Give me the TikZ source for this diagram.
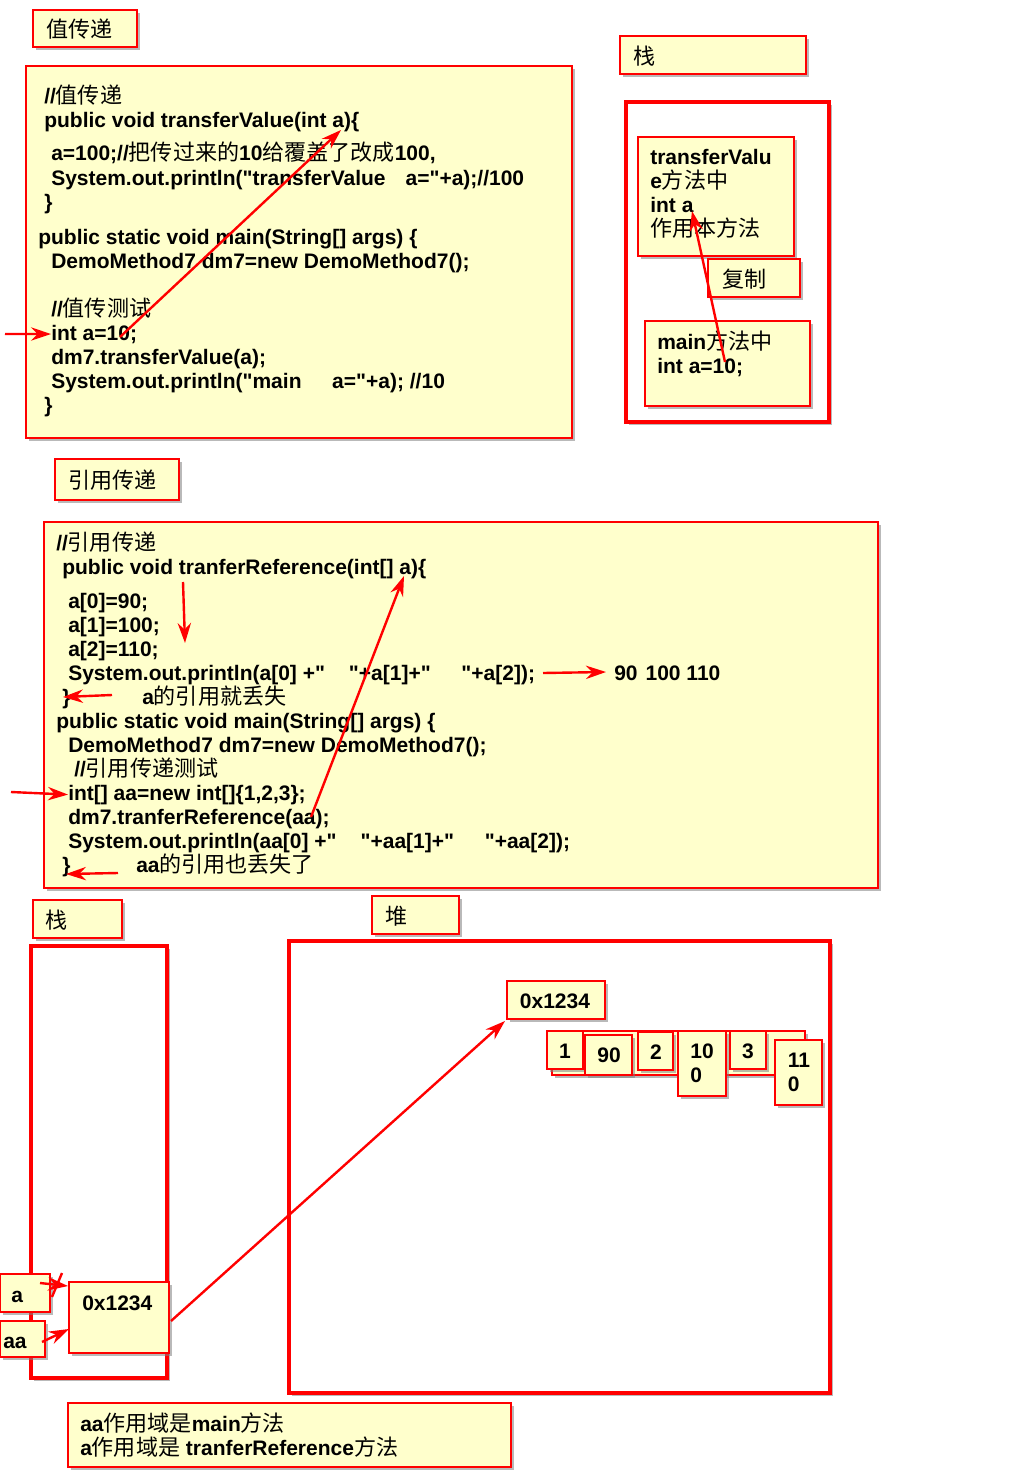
\documentclass[tikz,border=0pt]{standalone}
\usepackage{fontspec}
\setmainfont{Liberation Sans}[Ligatures=TeXOff]
\newfontfamily\cjk[Scale=1.05]{Noto Sans CJK SC}
\newcommand\zh[1]{{\cjk\mdseries #1}}
\newcommand\codefont{\fontsize{15.75}{18}\selectfont\bfseries}
\usetikzlibrary{arrows.meta,fit,shadows}
\tikzset {>=Stealth}
\definecolor{memo}{RGB}{255,255,204}

\tikzset{
  box/.style={draw=red, line width=2pt, fill=memo, inner sep=0pt,
    drop shadow={shadow xshift=2pt, shadow yshift=-2pt, opacity=0.55}},
  frame/.style={draw=red, line width=2.5pt, fill=white, inner sep=0pt,
    drop shadow={shadow xshift=2pt, shadow yshift=-2pt, opacity=0.55}},
  code/.style={anchor=base west, inner sep=0pt, font=\codefont},
  cell/.style={inner sep=0pt, font=\codefont, align=left},
  link/.style={red, line width=1.8pt, -{Stealth[length=15pt,width=10pt]}}
}

\begin{document}
\begin{tikzpicture}[x=0.75pt,y=-0.75pt]
\useasboundingbox (0,0) rectangle (1024,1473);

% Value passing
\node[box, fit={(33,10) (137,47)}] (valtitle) {};
\node[code] (valtitletext) at (46,38) {\zh{值传递}};
\node[box, fit={(26,66) (572,438)}] (valbox) {};
\node[code] (v1) at (44,104) {//\zh{值传递}};
\node[code] (v2) at (44,128) {public void transferValue(int a)\{};
\node[code] (v3) at (51,161) {a=100;//\zh{把传过来的}10\zh{给覆盖了改成}100,};
\node[code] (v4) at (51,186) {System.out.println("transferValue\hspace{15pt}a="+a);//100};
\node[code] (v5) at (44,210) {\}};
\node[code] (v6) at (38,244) {public static void main(String[] args) \{};
\node[code] (v7) at (51,268) {DemoMethod7 dm7=new DemoMethod7();};
\node[code] (v8) at (51,316) {//\zh{值传测试}};
\node[code] (v9) at (51,340) {int a=10;};
\node[code] (v10) at (51,364) {dm7.transferValue(a);};
\node[code] (v11) at (51,388) {System.out.println("main\hspace{23pt}a="+a); //10};
\node[code] (v12) at (44,412) {\}};

\coordinate (vin) at (5,334);
\coordinate (vfrom) at (120,337);
\coordinate (vto) at (341,130);
\draw[link] (vin) -- (v9.west);
\draw[link] (vfrom) -- (vto);

% Stack for value passing
\node[box, fit={(620,36) (806,74)}] (stktitle) {};
\node[code] (stktitletext) at (633,65) {\zh{栈}};
\node[frame, fit={(626,102) (829,422)}] (stkframe) {};
\node[box, fit={(638,137) (794,256)}] (tvbox) {};
\node[code] (t1) at (650,165) {transferValu};
\node[code] (t2) at (650,189) {e\zh{方法中}};
\node[code] (t3) at (650,213) {int a};
\node[code] (t4) at (650,237) {\zh{作用本方法}};
\node[box, fit={(708,259) (800,297)}] (copybox) {};
\node[code] (copytext) at (722,287) {\zh{复制}};
\node[box, fit={(645,321) (810,406)}] (mainbox) {};
\node[code] (m1) at (657,349) {main\zh{方法中}};
\node[code] (m2) at (657,373) {int a=10;};

\coordinate (cfrom) at (725,362);
\coordinate (cto) at (692,211);
\draw[link] (cfrom) -- (cto);

% Reference passing
\node[box, fit={(55,459) (179,500)}] (reftitle) {};
\node[code] (reftitletext) at (68,488) {\zh{引用传递}};
\node[box, fit={(44,522) (878,888)}] (refbox) {};
\node[code] (r1) at (56,550) {//\zh{引用传递}};
\node[code] (r2) at (62,574) {public void tranferReference(int[] a)\{};
\node[code] (r3) at (68,608) {a[0]=90;};
\node[code] (r4) at (68,632) {a[1]=100;};
\node[code] (r5) at (68,656) {a[2]=110;};
\node[code] (r6) at (68,680) {System.out.println(a[0] +"\hspace{18pt}"+a[1]+"\hspace{23pt}"+a[2]);};
\node[code] (r7) at (62,704) {\}};
\node[code] (r7note) at (142,704) {a\zh{的引用就丢失}};
\node[code] (r8) at (56,728) {public static void main(String[] args) \{};
\node[code] (r9) at (68,752) {DemoMethod7 dm7=new DemoMethod7();};
\node[code] (r10) at (74,776) {//\zh{引用传递测试}};
\node[code] (r11) at (68,800) {int[] aa=new int[]\{1,2,3\};};
\node[code] (r12) at (68,824) {dm7.tranferReference(aa);};
\node[code] (r13) at (68,848) {System.out.println(aa[0] +"\hspace{18pt}"+aa[1]+"\hspace{23pt}"+aa[2]);};
\node[code] (r14) at (62,872) {\}};
\node[code] (r14note) at (136,872) {aa\zh{的引用也丢失了}};
\node[code] (result) at (614,680) {90\hspace{6pt}100 110};

\coordinate (downfrom) at (183,582);
\coordinate (downto) at (185,643);
\coordinate (upfrom) at (311,817);
\coordinate (upto) at (404,576);
\coordinate (outfrom) at (543,673);
\coordinate (outto) at (606,672);
\coordinate (lostfrom) at (112,695);
\coordinate (lostto) at (63,697);
\coordinate (lost2from) at (118,873);
\coordinate (lost2to) at (66,874);
\coordinate (rin) at (11,792);
\draw[link] (downfrom) -- (downto);
\draw[link] (upfrom) -- (upto);
\draw[link] (outfrom) -- (outto);
\draw[link] (lostfrom) -- (lostto);
\draw[link] (lost2from) -- (lost2to);
\draw[link] (rin) -- (r11.west);

% Stack and heap
\node[box, fit={(33,900) (122,938)}] (stk2title) {};
\node[code] (stk2titletext) at (45,928) {\zh{栈}};
\node[frame, fit={(31,946) (167,1378)}] (stkframe2) {};
\node[box, fit={(372,896) (459,934)}] (heaptitle) {};
\node[code] (heaptitletext) at (385,924) {\zh{堆}};
\node[frame, fit={(289,941) (830,1393)}] (heapframe) {};

\node[box, fit={(507,981) (605,1019)}] (addr) {};
\node[cell] (addrtext) at (555,1001) {0x1234};
\node[box, fit={(552,1031) (805,1075)}] (strip) {};
\node[box, fit={(547,1031) (583,1069)}] (c1) {};
\node[box, fit={(585,1035) (632,1075)}] (c2) {};
\node[box, fit={(638,1032) (673,1070)}] (c3) {};
\node[box, fit={(678,1031) (726,1096)}] (c4) {};
\node[box, fit={(730,1031) (766,1069)}] (c5) {};
\node[box, fit={(775,1040) (822,1105)}] (c6) {};
\node[cell] (c1text) at (565,1051) {1};
\node[cell] (c2text) at (609,1055) {90};
\node[cell] (c3text) at (656,1052) {2};
\node[cell] (c4text) at (702,1063) {10\\0};
\node[cell] (c5text) at (748,1051) {3};
\node[cell] (c6text) at (799,1072) {11\\0};

\node[box, fit={(0,1274) (50,1312)}] (abox) {};
\node[code] (atext) at (11,1302) {a};
\node[box, fit={(0,1321) (45,1357)}] (aabox) {};
\node[code] (aatext) at (3,1348) {aa};
\node[box, fit={(69,1282) (169,1353)}] (stkaddr) {};
\node[code] (stkaddrtext) at (82,1310) {0x1234};

\coordinate (afrom) at (40,1283);
\coordinate (ato) at (68,1286);
\coordinate (aafrom) at (42,1342);
\coordinate (aato) at (69,1329);
\coordinate (reffrom) at (171,1321);
\coordinate (refto) at (505,1021);
\coordinate (cutlow) at (52,1297);
\coordinate (cuthigh) at (62,1273);
\draw[link] (afrom) -- (ato);
\draw[red, line width=1.8pt] (cutlow) -- (cuthigh);
\draw[link] (aafrom) -- (aato);
\draw[link] (reffrom) -- (refto);

% Scope note
\node[box, fit={(68,1403) (511,1467)}] (note) {};
\node[code] (n1) at (80,1431) {aa\zh{作用域是}main\zh{方法}};
\node[code] (n2) at (80,1455) {a\zh{作用域是} tranferReference\zh{方法}};

\end{tikzpicture}
\end{document}
